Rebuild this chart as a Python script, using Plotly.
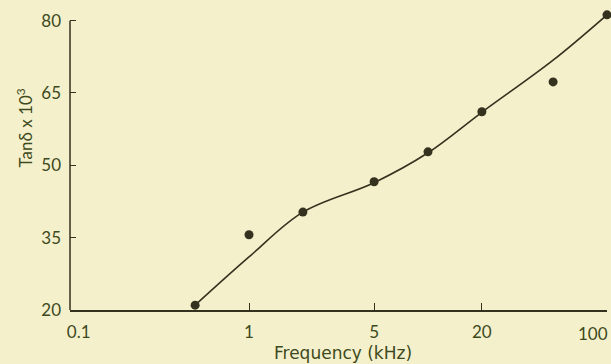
import plotly.graph_objects as go

# Measured points
freq_khz = [0.5, 1, 2, 5, 10, 20, 50, 100]
tan_delta_x1e3 = [21.0, 35.6, 40.3, 46.6, 52.8, 61.1, 67.3, 81.2]

# Smooth fitted curve
curve_freq = [0.5, 1, 2, 5, 10, 20, 50, 100]
curve_vals = [21.0, 31.0, 40.3, 46.4, 52.6, 61.0, 71.8, 81.2]

x_tick_vals = [0.1, 1, 5, 20, 100]
x_tick_text = ["\u00a0\u00a0\u00a0\u00a00.1", "1", "5", "20", ""]
last_x_label = "100"
y_tick_vals = [20, 35, 50, 65, 80]
y_tick_text = ["20", "35", "50", "65", "80"]

BG = "#f4f0cc"
INK = "#35311f"
TXT = "#3d4a20"
FONT = "Lato"

fig = go.Figure()
fig.add_trace(go.Scatter(
    x=curve_freq, y=curve_vals, mode="lines",
    line=dict(color=INK, width=1.6, shape="spline", smoothing=1.0),
    hoverinfo="skip", showlegend=False,
))
fig.add_trace(go.Scatter(
    x=freq_khz, y=tan_delta_x1e3, mode="markers",
    marker=dict(color=INK, size=9), cliponaxis=False, showlegend=False,
))

fig.add_shape(type="line", xref="paper", x0=0, x1=0, yref="y", y0=20, y1=80,
              line=dict(color=INK, width=1.5))

fig.add_annotation(text="Tanδ x 10<sup>3</sup>", xref="paper", yref="paper",
                   x=-0.084, y=0.61, xanchor="center", yanchor="middle",
                   textangle=-90, showarrow=False,
                   font=dict(family=FONT, size=17, color=TXT))
fig.add_annotation(text="Frequency (kHz)", xref="paper", yref="paper",
                   x=0.508, y=-0.145, showarrow=False, xanchor="center", yanchor="middle",
                   font=dict(family="DejaVu Sans", size=17, color=TXT))
# last x tick label, kept inside the picture
fig.add_annotation(text=last_x_label, xref="x", yref="paper",
                   x=2, y=-0.077, xanchor="right", yanchor="middle", xshift=3,
                   showarrow=False, font=dict(family=FONT, size=17, color=TXT))

fig.update_layout(
    width=611, height=364,
    margin=dict(l=70, r=4, t=11, b=54, autoexpand=False),
    paper_bgcolor=BG, plot_bgcolor=BG,
    xaxis=dict(type="log", range=[-1.0001, 2.0001], tickvals=x_tick_vals, ticktext=x_tick_text,
               ticks="inside", ticklen=7, tickcolor=INK, tickwidth=1.3,
               showline=True, linecolor=INK, linewidth=1.5, showgrid=False,
               zeroline=False, tickfont=dict(family=FONT, size=17, color=TXT),
               ticklabelstandoff=6, automargin=False),
    yaxis=dict(range=[20, 82], tickvals=y_tick_vals, ticktext=y_tick_text,
               ticks="inside", ticklen=6, tickcolor=INK, tickwidth=1.3,
               showline=False, showgrid=False, zeroline=False, automargin=False,
               tickfont=dict(family=FONT, size=17, color=TXT),
               ticklabelstandoff=8),
)

fig.write_html("out.html", config={"displayModeBar": False},
               post_script="document.body.style.margin='0';")
